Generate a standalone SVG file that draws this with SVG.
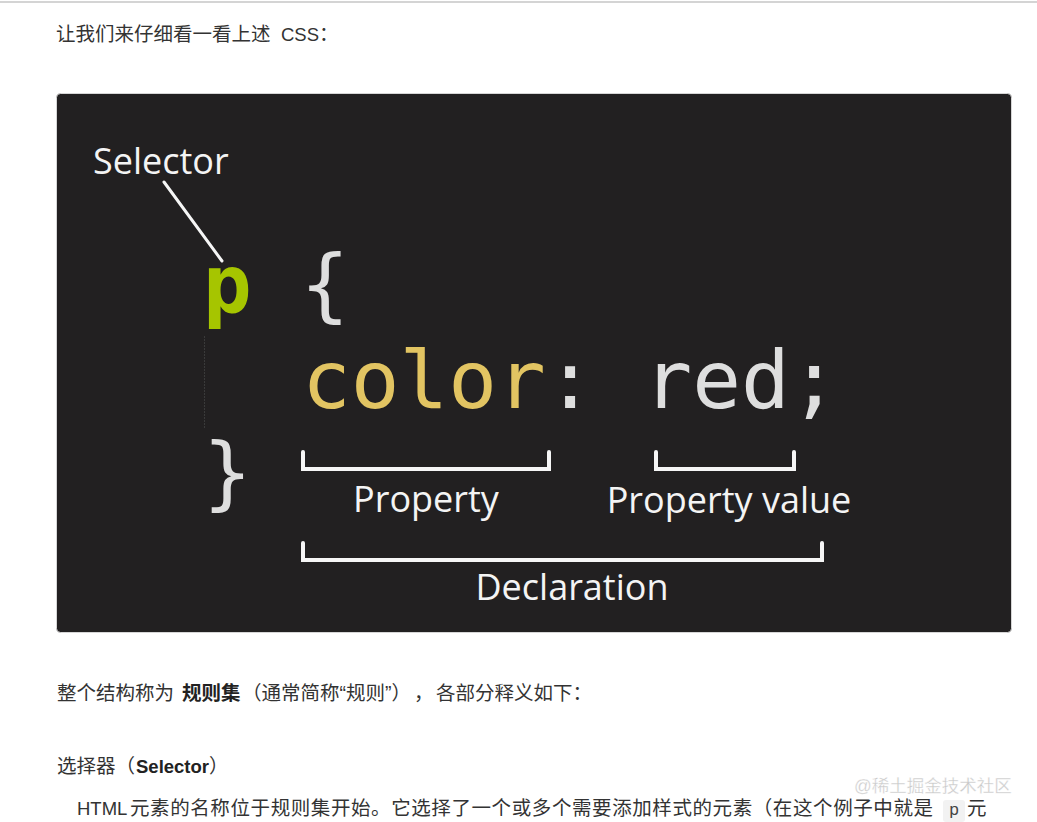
<svg xmlns="http://www.w3.org/2000/svg" width="1037" height="822" viewBox="0 0 1037 822">
  <defs>
    <style>
      .body { font-family: "Liberation Sans", "Noto Sans CJK SC", sans-serif; font-size: 19.5px; fill: #333333; }
      .lat { font-size: 18.5px; }
      .b { font-weight: bold; fill: #222222; }
      .code { font-family: "DejaVu Sans Mono", monospace; font-size: 81px; }
      .lbl { font-family: "Open Sans", "Liberation Sans", sans-serif; font-size: 36px; fill: #f4f4f4; }
      .brk { fill: none; stroke: #f6f6f6; stroke-width: 4; stroke-linejoin: miter; stroke-linecap: round; }
    </style>
  </defs>
  <rect x="0" y="0" width="1037" height="822" fill="#ffffff"/>
  <line x1="0" y1="2" x2="1037" y2="2" stroke="#d4d4d4" stroke-width="2"/>

  <g id="intro">
    <text class="body" x="56" y="41">让我们来仔细看一看上述<tspan class="lat" x="281">CSS</tspan>：</text>
  </g>

  <g id="panel">
    <rect x="56.5" y="93.5" width="955" height="539" rx="4" fill="#222021" stroke="#d6d6d6" stroke-width="1"/>
    <line x1="204.5" y1="336" x2="204.5" y2="428" stroke="#3a3a3a" stroke-width="1" stroke-dasharray="2 1"/>
  </g>

  <g id="code">
    <text class="code" x="203" y="312"><tspan font-weight="bold" fill="#a6c500">p</tspan><tspan fill="#dedede"> {</tspan></text>
    <text class="code" x="302" y="408"><tspan fill="#e2c462">color</tspan><tspan fill="#dedede">: red;</tspan></text>
    <text class="code" x="203" y="500" fill="#dedede">}</text>
  </g>

  <g id="selector-label">
    <text class="lbl" x="93" y="174">Selector</text>
  </g>
  <g id="property-label">
    <text class="lbl" x="426" y="512" text-anchor="middle">Property</text>
  </g>
  <g id="value-label">
    <text class="lbl" x="729" y="513" text-anchor="middle">Property value</text>
  </g>
  <g id="declaration-label">
    <text class="lbl" x="572" y="600" text-anchor="middle">Declaration</text>
  </g>

  <g id="connectors">
    <line x1="164" y1="182" x2="222" y2="261" stroke="#f6f6f6" stroke-width="3" stroke-linecap="round"/>
    <path class="brk" d="M303,452 V469 H549 V452"/>
    <path class="brk" d="M656,452 V469 H794 V452"/>
    <path class="brk" d="M303,543 V560 H822 V543"/>
  </g>

  <g id="ruleset-text">
    <text class="body" y="700"><tspan x="57">整个结构称为</tspan><tspan class="b" x="182">规则集</tspan><tspan x="242">（通常简称“规则”）</tspan><tspan x="414">，</tspan><tspan x="436">各部分释义如下：</tspan></text>
  </g>

  <g id="selector-heading">
    <text class="body" y="773"><tspan x="57">选择器（</tspan><tspan class="b lat" x="136">Selector</tspan><tspan x="209">）</tspan></text>
  </g>

  <g id="selector-desc">
    <text class="body" y="815"><tspan class="lat" x="77">HTML</tspan><tspan x="130" textLength="803" lengthAdjust="spacing">元素的名称位于规则集开始。它选择了一个或多个需要添加样式的元素（在这个例子中就是</tspan></text>
    <rect x="943" y="800" width="22" height="22" rx="3" fill="#f2f2f2"/>
    <text x="954" y="815" text-anchor="middle" font-family="Liberation Mono, monospace" font-size="17" fill="#444444">p</text>
    <text class="body" x="967" y="815">元</text>
  </g>

  <g id="watermark">
    <text x="854" y="792" font-family="Liberation Sans, Noto Sans CJK SC, sans-serif" font-size="17.5" fill="#c9c9c9" stroke="#ffffff" stroke-width="0.3">@稀土掘金技术社区</text>
  </g>
</svg>
